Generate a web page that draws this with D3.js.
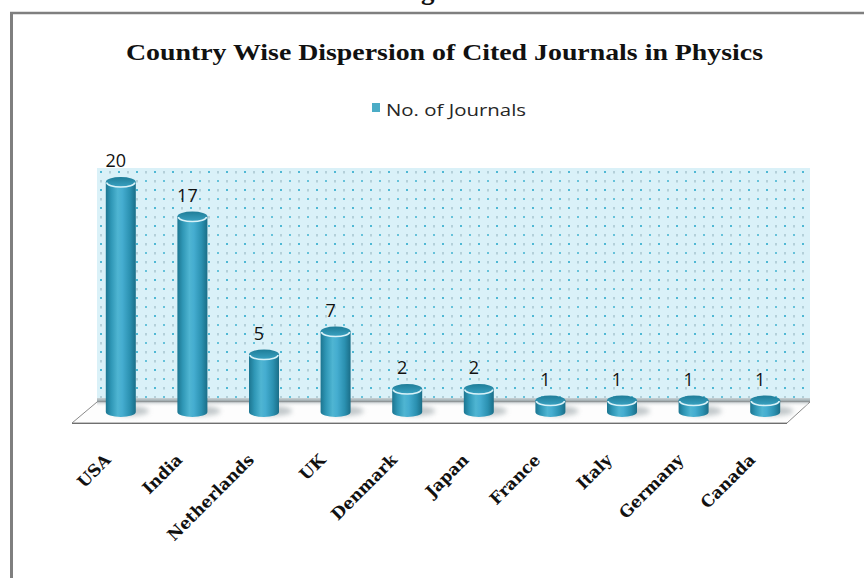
<!DOCTYPE html>
<html>
<head>
<meta charset="utf-8">
<script src="https://cdn.jsdelivr.net/npm/d3@7"></script>
<style>
  html, body { margin: 0; padding: 0; background: #fff; }
  svg { display: block; }
</style>
</head>
<body>
<svg id="chart" width="864" height="578"></svg>
<script>
const countries = ["USA", "India", "Netherlands", "UK", "Denmark", "Japan", "France", "Italy", "Germany", "Canada"];
const journals = [20, 17, 5, 7, 2, 2, 1, 1, 1, 1];
const seriesName = "No. of Journals";
const chartTitle = "Country Wise Dispersion of Cited Journals in Physics";

const svg = d3.select("#chart");
const defs = svg.append("defs");

// scales
const x = d3.scaleBand().domain(countries).range([85, 801]).padding(0);
const y = d3.scaleLinear().domain([0, 20]).range([412, 182]);

// frame
svg.append("line").attr("x1", 11.5).attr("y1", 12).attr("x2", 11.5).attr("y2", 578)
  .attr("stroke", "#7f7f7f").attr("stroke-width", 3);
svg.append("line").attr("x1", 10).attr("y1", 13).attr("x2", 864).attr("y2", 13)
  .attr("stroke", "#7f7f7f").attr("stroke-width", 2.5);

// caption above the frame, cut off by the top edge as in the reference
svg.append("text").attr("x", 397).attr("y", -1)
  .attr("font-family", "Liberation Serif").attr("font-weight", "bold").attr("font-size", 27)
  .attr("fill", "#111").text("Figure");

// title
svg.append("text").attr("x", 126).attr("y", 60)
  .attr("textLength", 637).attr("lengthAdjust", "spacingAndGlyphs")
  .attr("font-family", "Liberation Serif").attr("font-weight", "bold").attr("font-size", 24)
  .attr("fill", "#111").text(chartTitle);

// legend
svg.append("rect").attr("x", 372).attr("y", 103).attr("width", 8).attr("height", 9).attr("fill", "#4bacc6");
svg.append("text").attr("x", 386).attr("y", 116)
  .attr("font-family", "Open Sans").attr("font-size", 17).attr("fill", "#262626")
  .attr("textLength", 140).attr("lengthAdjust", "spacingAndGlyphs")
  .text(seriesName);

// wall pattern
const pat = defs.append("pattern").attr("id", "dots").attr("patternUnits", "userSpaceOnUse")
  .attr("width", 18).attr("height", 18).attr("x", 97).attr("y", 168);
pat.append("rect").attr("width", 18).attr("height", 18).attr("fill", "#daf1f8");
pat.append("rect").attr("x", 3).attr("y", 3).attr("width", 2).attr("height", 2).attr("fill", "#4fb8d4");
pat.append("rect").attr("x", 12.5).attr("y", 3).attr("width", 1).attr("height", 2.5).attr("fill", "#8fb0ba");
pat.append("rect").attr("x", 3.5).attr("y", 12).attr("width", 1).attr("height", 2.5).attr("fill", "#8fb0ba");
pat.append("rect").attr("x", 12).attr("y", 12).attr("width", 2).attr("height", 2).attr("fill", "#66c2da");

const wallLeft = 97, wallRight = 810, wallTop = 168, wallBottom = y(0) - 11;
svg.append("rect").attr("x", wallLeft).attr("y", wallTop)
  .attr("width", wallRight - wallLeft).attr("height", wallBottom - wallTop)
  .attr("fill", "url(#dots)");

// wall bottom edge shading
const edgeGrad = defs.append("linearGradient").attr("id", "edge").attr("x1", 0).attr("y1", 0).attr("x2", 0).attr("y2", 1);
edgeGrad.append("stop").attr("offset", "0%").attr("stop-color", "#c9d3d6");
edgeGrad.append("stop").attr("offset", "100%").attr("stop-color", "#8e9a9e");
svg.append("rect").attr("x", wallLeft).attr("y", wallBottom - 3).attr("width", wallRight - wallLeft).attr("height", 4)
  .attr("fill", "url(#edge)");

// floor
const floorFront = 423, dx = 23;
svg.append("path")
  .attr("d", `M${wallLeft},${wallBottom + 1} L${wallRight},${wallBottom + 1} L${wallRight - dx},${floorFront} L${wallLeft - dx - 2},${floorFront} Z`)
  .attr("fill", "#fdfdfd").attr("stroke", "#8a8a8a").attr("stroke-width", 1);
const floorGrad = defs.append("linearGradient").attr("id", "floorShade").attr("x1", 0).attr("y1", 0).attr("x2", 0).attr("y2", 1);
floorGrad.append("stop").attr("offset", "0%").attr("stop-color", "#bfc6c9").attr("stop-opacity", 0.9);
floorGrad.append("stop").attr("offset", "100%").attr("stop-color", "#ffffff").attr("stop-opacity", 0);
svg.append("rect").attr("x", wallLeft).attr("y", wallBottom + 1).attr("width", wallRight - wallLeft - 2).attr("height", 5)
  .attr("fill", "url(#floorShade)");
svg.append("line").attr("x1", wallLeft - dx - 2).attr("y1", floorFront + 0.5).attr("x2", wallRight - dx).attr("y2", floorFront + 0.5)
  .attr("stroke", "#6f6f6f").attr("stroke-width", 1.2);

// bar shadow blur
const blur = defs.append("filter").attr("id", "blur").attr("x", "-50%").attr("y", "-50%").attr("width", "200%").attr("height", "200%");
blur.append("feGaussianBlur").attr("stdDeviation", 2.5);

// cylinder gradients
const bodyGrad = defs.append("linearGradient").attr("id", "body").attr("x1", 0).attr("y1", 0).attr("x2", 1).attr("y2", 0);
[["0%", "#1c7590"], ["18%", "#2f97b6"], ["40%", "#4fb5d2"], ["55%", "#45add0"], ["80%", "#2b91b1"], ["100%", "#1a6e88"]]
  .forEach(([o, c]) => bodyGrad.append("stop").attr("offset", o).attr("stop-color", c));
const topGrad = defs.append("linearGradient").attr("id", "top").attr("x1", 0).attr("y1", 0).attr("x2", 0).attr("y2", 1);
topGrad.append("stop").attr("offset", "0%").attr("stop-color", "#1f7d98");
topGrad.append("stop").attr("offset", "100%").attr("stop-color", "#3aa2c2");

const rx = 15, ry = 5;
const bars = svg.append("g").selectAll("g").data(countries).join("g");

bars.append("ellipse")
  .attr("cx", d => x(d) + x.bandwidth() / 2 + 9)
  .attr("cy", y(0) - 1)
  .attr("rx", rx + 4).attr("ry", ry)
  .attr("fill", "#9aa4a8").attr("opacity", 0.6).attr("filter", "url(#blur)");

bars.append("path")
  .attr("d", (d, i) => {
    const cx = x(d) + x.bandwidth() / 2;
    const yt = y(journals[i]), yb = y(0);
    return `M${cx - rx},${yt} L${cx - rx},${yb} A${rx},${ry} 0 0 0 ${cx + rx},${yb} L${cx + rx},${yt} Z`;
  })
  .attr("fill", "url(#body)");

bars.append("ellipse")
  .attr("cx", d => x(d) + x.bandwidth() / 2)
  .attr("cy", (d, i) => y(journals[i]))
  .attr("rx", rx).attr("ry", ry)
  .attr("fill", "url(#top)");
bars.append("path")
  .attr("d", (d, i) => {
    const cx = x(d) + x.bandwidth() / 2;
    const yt = y(journals[i]);
    return `M${cx - rx + 1},${yt + 0.5} A${rx - 1},${ry - 0.5} 0 0 0 ${cx + rx - 1},${yt + 0.5}`;
  })
  .attr("fill", "none").attr("stroke", "#d9f2f8").attr("stroke-width", 1.6);

// data labels
svg.append("g").selectAll("text").data(countries).join("text")
  .attr("x", d => x(d) + x.bandwidth() / 2 - 5)
  .attr("y", (d, i) => y(journals[i]) - 15)
  .attr("text-anchor", "middle")
  .attr("font-family", "Open Sans").attr("font-size", 18).attr("fill", "#111")
  .text((d, i) => journals[i]);

// x axis labels
const axis = d3.axisBottom(x).tickSize(0).tickPadding(0);
const gx = svg.append("g").call(axis);
gx.select(".domain").remove();
gx.attr("font-family", null).attr("font-size", null);
gx.selectAll(".tick").attr("transform", d => `translate(${x(d) + x.bandwidth() / 2 - 9},461)`);
gx.selectAll(".tick text")
  .attr("y", 0).attr("dy", 0).attr("x", 0)
  .attr("transform", "rotate(-45)")
  .attr("text-anchor", "end")
  .style("font-family", "'DejaVu Serif'").style("font-weight", "bold").style("font-size", "16.5px")
  .attr("fill", "#111");
</script>
</body>
</html>
